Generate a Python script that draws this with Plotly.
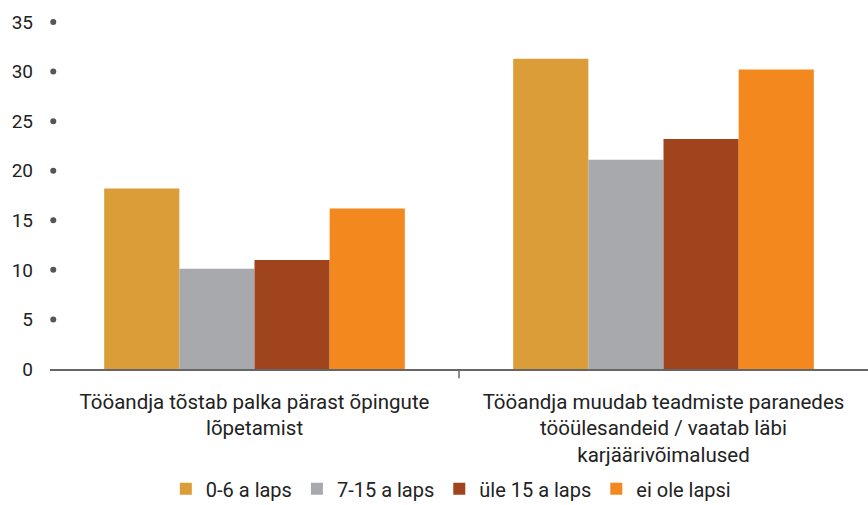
import plotly.graph_objects as go

categories = [
    "Tööandja tõstab palka pärast õpingute<br>lõpetamist",
    "Tööandja muudab teadmiste paranedes<br>tööülesandeid / vaatab läbi<br>karjäärivõimalused",
]
series_names = ["0-6 a laps", "7-15 a laps", "üle 15 a laps", "ei ole lapsi"]
values_0_6 = [18.2, 31.3]
values_7_15 = [10.1, 21.1]
values_over_15 = [11.0, 23.2]
values_no_kids = [16.2, 30.2]
y_ticks = [0, 5, 10, 15, 20, 25, 30, 35]

colors = ["#DA9D37", "#A8A9AD", "#A0441D", "#F3881F"]
label_font = "Roboto, sans-serif"

fig = go.Figure()
for name, vals, col in zip(series_names,
                           [values_0_6, values_7_15, values_over_15, values_no_kids],
                           colors):
    fig.add_trace(go.Bar(x=categories, y=vals, name=name, marker_color=col,
                         marker_line_width=0))

# dotted y ticks drawn just inside the plot area
fig.add_trace(go.Scatter(
    x=[0.004] * (len(y_ticks) - 1), y=y_ticks[1:], xaxis="x2", mode="markers",
    marker=dict(size=6, color="#555555"), showlegend=False, hoverinfo="skip",
    cliponaxis=False,
))

fig.update_layout(
    width=868, height=505,
    barmode="group", bargap=0.265, bargroupgap=0,
    plot_bgcolor="white", paper_bgcolor="white",
    margin=dict(l=50, r=0, t=22, b=136),
    font=dict(family=label_font, size=20, color="#222222"),
    legend=dict(orientation="h", x=0.49, xanchor="center",
                yref="container", y=0.032, yanchor="middle",
                font=dict(size=20), itemwidth=30, tracegroupgap=0),
    xaxis=dict(showline=True, linecolor="#666666", linewidth=2, ticks="",
               tickfont=dict(size=20.5), showgrid=False, automargin=False,
               ticklabelstandoff=13),
    xaxis2=dict(overlaying="x", range=[0, 1], visible=False),
    yaxis=dict(range=[0, 35], tickvals=y_ticks, showgrid=False, zeroline=False,
               showline=False, ticks="", automargin=False, ticklabelstandoff=16,
               tickfont=dict(family="Roboto, sans-serif", size=19, color="#222222")),
    shapes=[dict(type="line", xref="x", yref="paper", x0=0.5, x1=0.5, y0=0, y1=-0.027,
                 line=dict(color="#666666", width=1.5))],
)

fig.write_html("out.html", config={"displayModeBar": False},
               post_script="document.body.style.margin='0';")
